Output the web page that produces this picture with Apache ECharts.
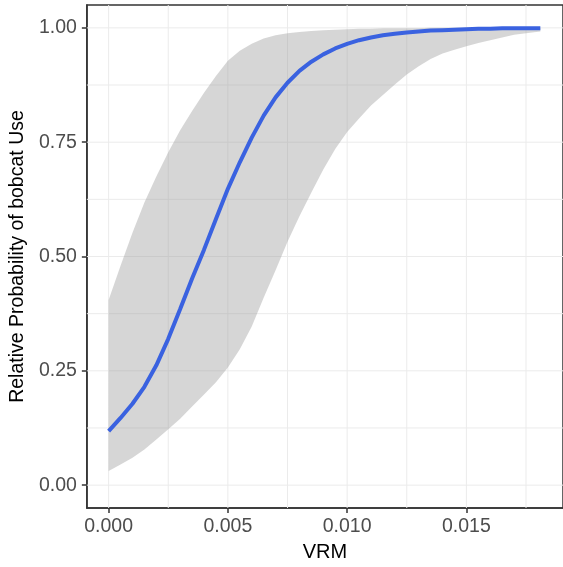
<!DOCTYPE html>
<html>
<head>
<meta charset="utf-8">
<script src="https://cdn.jsdelivr.net/npm/echarts@6/dist/echarts.min.js"></script>
<style>
html,body{margin:0;padding:0;background:#fff;}
#chart{width:563px;height:567px;}
</style>
</head>
<body>
<div id="chart"></div>
<script>
const vrm = [0,0.0005,0.001,0.0015,0.002,0.0025,0.003,0.0035,0.004,0.0045,0.005,0.0055,0.006,0.0065,0.007,0.0075,0.008,0.0085,0.009,0.0095,0.010,0.0105,0.011,0.0115,0.012,0.0125,0.013,0.0135,0.014,0.0145,0.015,0.0155,0.016,0.0165,0.017,0.0175,0.0181];
const fit = [0.118,0.147,0.178,0.215,0.262,0.320,0.385,0.452,0.515,0.582,0.648,0.706,0.760,0.808,0.848,0.880,0.906,0.926,0.942,0.955,0.965,0.973,0.979,0.984,0.987,0.990,0.992,0.994,0.995,0.996,0.997,0.998,0.998,0.999,0.999,0.999,0.999];
const upper = [0.405,0.480,0.552,0.618,0.675,0.728,0.776,0.818,0.858,0.895,0.928,0.950,0.965,0.977,0.984,0.988,0.991,0.993,0.995,0.996,0.997,0.998,0.998,0.999,0.999,0.999,0.999,1.0,1.0,1.0,1.0,1.0,1.0,1.0,1.0,1.0,1.0];
const lower = [0.031,0.045,0.060,0.078,0.100,0.122,0.145,0.172,0.198,0.225,0.257,0.297,0.347,0.410,0.470,0.532,0.588,0.640,0.690,0.735,0.772,0.802,0.830,0.853,0.876,0.898,0.916,0.932,0.944,0.952,0.960,0.967,0.973,0.979,0.985,0.988,0.992];
const xTicks = [0, 0.005, 0.010, 0.015];
const xMinor = [0.0025, 0.0075, 0.0125, 0.0175];
const yTicks = [0, 0.25, 0.5, 0.75, 1.0];
const yMinor = [0.125, 0.375, 0.625, 0.875];

const FONT = '"Liberation Sans", Arial, sans-serif';
const X_MIN = -0.000913, X_MAX = 0.01905, Y_MIN = -0.05, Y_MAX = 1.05;
const chart = echarts.init(document.getElementById('chart'), null, {renderer: 'canvas'});

const xFmt = v => v.toFixed(3);
const yFmt = v => v.toFixed(2);

chart.setOption({
  animation: false,
  grid: {left: 85, top: 5, width: 481, height: 503, show: true, borderColor: '#333333', borderWidth: 1.5, backgroundColor: '#ffffff'},
  xAxis: {
    type: 'value', min: X_MIN, max: X_MAX,
    name: 'VRM', nameLocation: 'middle', nameGap: 34,
    nameTextStyle: {color: '#000000', fontSize: 20, fontFamily: FONT},
    axisLine: {show: true, onZero: false, lineStyle: {color: '#333333', width: 1.5}},
    axisTick: {show: true, length: 5, lineStyle: {color: '#333333', width: 1.5}, customValues: xTicks},
    axisLabel: {color: '#4D4D4D', fontSize: 19.5, fontFamily: FONT, margin: 9, customValues: xTicks, formatter: xFmt},
    splitLine: {show: false}
  },
  yAxis: {
    type: 'value', min: Y_MIN, max: Y_MAX,
    name: 'Relative Probability of bobcat Use', nameLocation: 'middle', nameGap: 48,
    nameTextStyle: {color: '#000000', fontSize: 19.5, fontFamily: FONT},
    axisLine: {show: true, onZero: false, lineStyle: {color: '#333333', width: 1.5}},
    axisTick: {show: true, length: 5, lineStyle: {color: '#333333', width: 1.5}, customValues: yTicks},
    axisLabel: {color: '#4D4D4D', fontSize: 19.5, fontFamily: FONT, margin: 10, customValues: yTicks, formatter: yFmt},
    splitLine: {show: false}
  },
  series: [
    {
      name: 'grid', type: 'custom', silent: true, z: 1, clip: true,
      data: [[0, 0]],
      renderItem: function (params, api) {
        const children = [];
        xTicks.concat(xMinor).forEach(v => {
          const a = api.coord([v, Y_MIN]), b = api.coord([v, Y_MAX]);
          children.push({type: 'line', shape: {x1: a[0], y1: a[1], x2: b[0], y2: b[1]}, style: {stroke: '#EBEBEB', lineWidth: 1}});
        });
        yTicks.concat(yMinor).forEach(v => {
          const a = api.coord([X_MIN, v]), b = api.coord([X_MAX, v]);
          children.push({type: 'line', shape: {x1: a[0], y1: a[1], x2: b[0], y2: b[1]}, style: {stroke: '#EBEBEB', lineWidth: 1}});
        });
        return {type: 'group', children: children};
      }
    },
    {
      name: 'band', type: 'custom', silent: true, z: 2,
      data: [[0, 0]],
      renderItem: function (params, api) {
        const pts = [];
        for (let i = 0; i < vrm.length; i++) pts.push(api.coord([vrm[i], upper[i]]));
        for (let i = vrm.length - 1; i >= 0; i--) pts.push(api.coord([vrm[i], lower[i]]));
        return {type: 'polygon', shape: {points: pts}, style: {fill: 'rgba(153,153,153,0.4)'}};
      }
    },
    {
      name: 'fit', type: 'line', symbol: 'none', silent: true, z: 3,
      lineStyle: {color: '#3A62E0', width: 4},
      data: vrm.map((x, i) => [x, fit[i]])
    }
  ]
});
</script>
</body>
</html>
